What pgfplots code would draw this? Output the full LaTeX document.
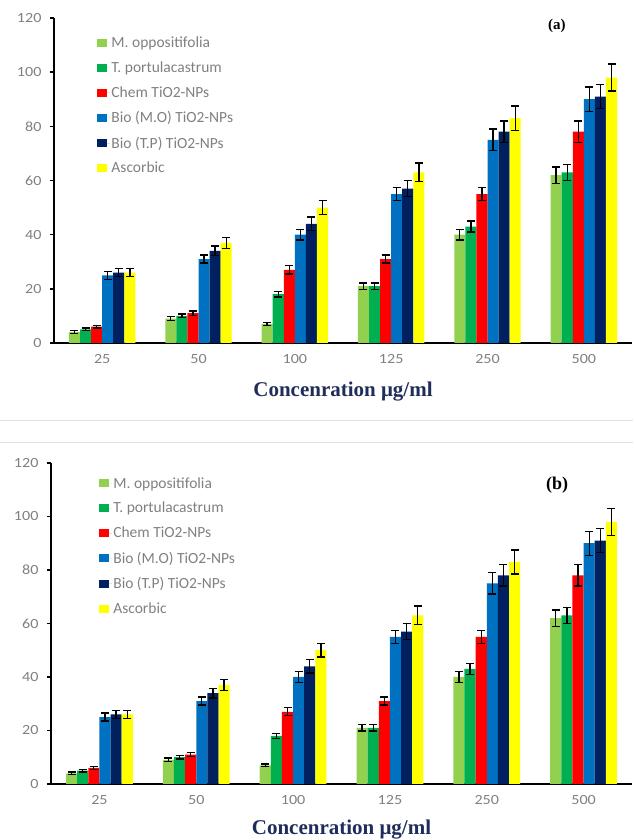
\documentclass[border=0pt]{standalone}
\usepackage{pgfplots}
\pgfplotsset{compat=1.18}
\usepackage{fontspec}
\setmainfont{Carlito}
\newfontfamily\tnr{Liberation Serif}
\newfontfamily\tickf[FakeStretch=1.15]{Carlito}
\definecolor{cMO}{RGB}{146,208,80}
\definecolor{cTP}{RGB}{0,176,80}
\definecolor{cCH}{RGB}{255,0,0}
\definecolor{cBM}{RGB}{0,112,192}
\definecolor{cBT}{RGB}{0,32,96}
\definecolor{cAS}{RGB}{255,255,0}
\definecolor{ticktxt}{RGB}{128,128,128}
\definecolor{xlab}{RGB}{31,45,90}
\newcommand{\tl}[1]{\hbox{\tickf\fontsize{14}{16}\selectfont\color{ticktxt}#1}}
\pgfplotsset{
  mybars/.style={
    scale only axis,
    ybar=0pt, bar width=0.115,
    ymin=0, ymax=120, ytick={0,20,...,120},
    xmin=-0.5, xmax=5.5,
    xtick={0,...,5}, xticklabels={\tl{25},\tl{50},\tl{100},\tl{125},\tl{250},\tl{500}},
    yticklabel={\tl{\pgfmathprintnumber[assume math mode=true]{\tick}}},
    x tick style={draw=none},
    extra x ticks={0.5,1.5,2.5,3.5,4.5,5.5}, extra x tick labels={},
    extra x tick style={tick style={draw=black, line width=1.4pt}, major tick length=4pt},
    y tick style={draw=black, line width=1.4pt}, major tick length=4pt,
    tick align=outside,
    axis x line*=bottom, axis y line*=left,
    axis line style={line width=1.8pt, -},
    tick label style={text=ticktxt, font=\fontsize{14}{16}\selectfont},
    xticklabel style={yshift=-4pt},
    yticklabel style={xshift=-5pt},
    /pgf/number format/assume math mode=true,
    xlabel={\tnr\bfseries Concenration μg/ml},
    xlabel style={font=\fontsize{21}{24}\selectfont, text=xlab, yshift=-3pt},
    legend cell align=left,
    legend style={draw=none, fill=none, inner sep=0pt, font=\fontsize{15.5}{18}\selectfont, text=ticktxt, anchor=north west,
      nodes={inner xsep=1.5pt, inner ysep=0pt}},
    legend image code/.code={\fill[##1] (0pt,-4pt) rectangle (10pt,4pt); \path (0pt,0pt) -- (13pt,0pt);},
    every axis plot/.append style={draw=none,
      error bars/y dir=both, error bars/y explicit,
      error bars/error bar style={line width=1.3pt, black},
      error bars/error mark options={rotate=90, mark size=4pt, line width=1.3pt, black}},
  }
}
\newcommand{\allbars}{%
\addplot[fill=cMO] coordinates {(0,4)+-(0,0.5) (1,9)+-(0,0.7) (2,7)+-(0,0.5) (3,21)+-(0,1.2) (4,40)+-(0,2) (5,62)+-(0,3)};
\addplot[fill=cTP] coordinates {(0,5)+-(0,0.5) (1,10)+-(0,0.7) (2,18)+-(0,1) (3,21)+-(0,1.2) (4,43)+-(0,2) (5,63)+-(0,3)};
\addplot[fill=cCH] coordinates {(0,6)+-(0,0.5) (1,11)+-(0,0.8) (2,27)+-(0,1.5) (3,31)+-(0,1.5) (4,55)+-(0,2.5) (5,78)+-(0,4)};
\addplot[fill=cBM] coordinates {(0,25)+-(0,1.5) (1,31)+-(0,1.5) (2,40)+-(0,2) (3,55)+-(0,2.5) (4,75)+-(0,4) (5,90)+-(0,4.5)};
\addplot[fill=cBT] coordinates {(0,26)+-(0,1.5) (1,34)+-(0,1.8) (2,44)+-(0,2.5) (3,57)+-(0,3) (4,78)+-(0,4) (5,91)+-(0,4.5)};
\addplot[fill=cAS] coordinates {(0,26)+-(0,1.5) (1,37)+-(0,2) (2,50)+-(0,2.5) (3,63)+-(0,3.5) (4,83)+-(0,4.5) (5,98)+-(0,5)};
\legend{M. oppositifolia, T. portulacastrum, Chem TiO2-NPs, Bio (M.O) TiO2-NPs, Bio (T.P) TiO2-NPs, Ascorbic}
}
\begin{document}
\begin{tikzpicture}
\useasboundingbox (0,0) rectangle (633pt,840pt);
\draw[black!12, line width=0.8pt] (0,420pt) -- (633pt,420pt);
\draw[black!12, line width=0.8pt] (0,398pt) -- (633pt,398pt);
\begin{axis}[mybars, at={(54pt,497pt)}, anchor=south west, width=578pt, height=325pt,
  legend style={at={(rel axis cs:0.074,0.943)}, row sep=12.6pt}]
\allbars
\node[font=\tnr\bfseries\fontsize{15}{17}\selectfont] at (rel axis cs:0.870,0.975) {(a)};
\end{axis}
\begin{axis}[mybars, at={(51pt,56pt)}, anchor=south west, width=581pt, height=321pt,
  legend style={at={(rel axis cs:0.082,0.956)}, row sep=12.6pt},
  xlabel style={yshift=3pt}]
\allbars
\node[font=\tnr\bfseries\fontsize{18}{20}\selectfont] at (rel axis cs:0.871,0.932) {(b)};
\end{axis}
\end{tikzpicture}
\end{document}
